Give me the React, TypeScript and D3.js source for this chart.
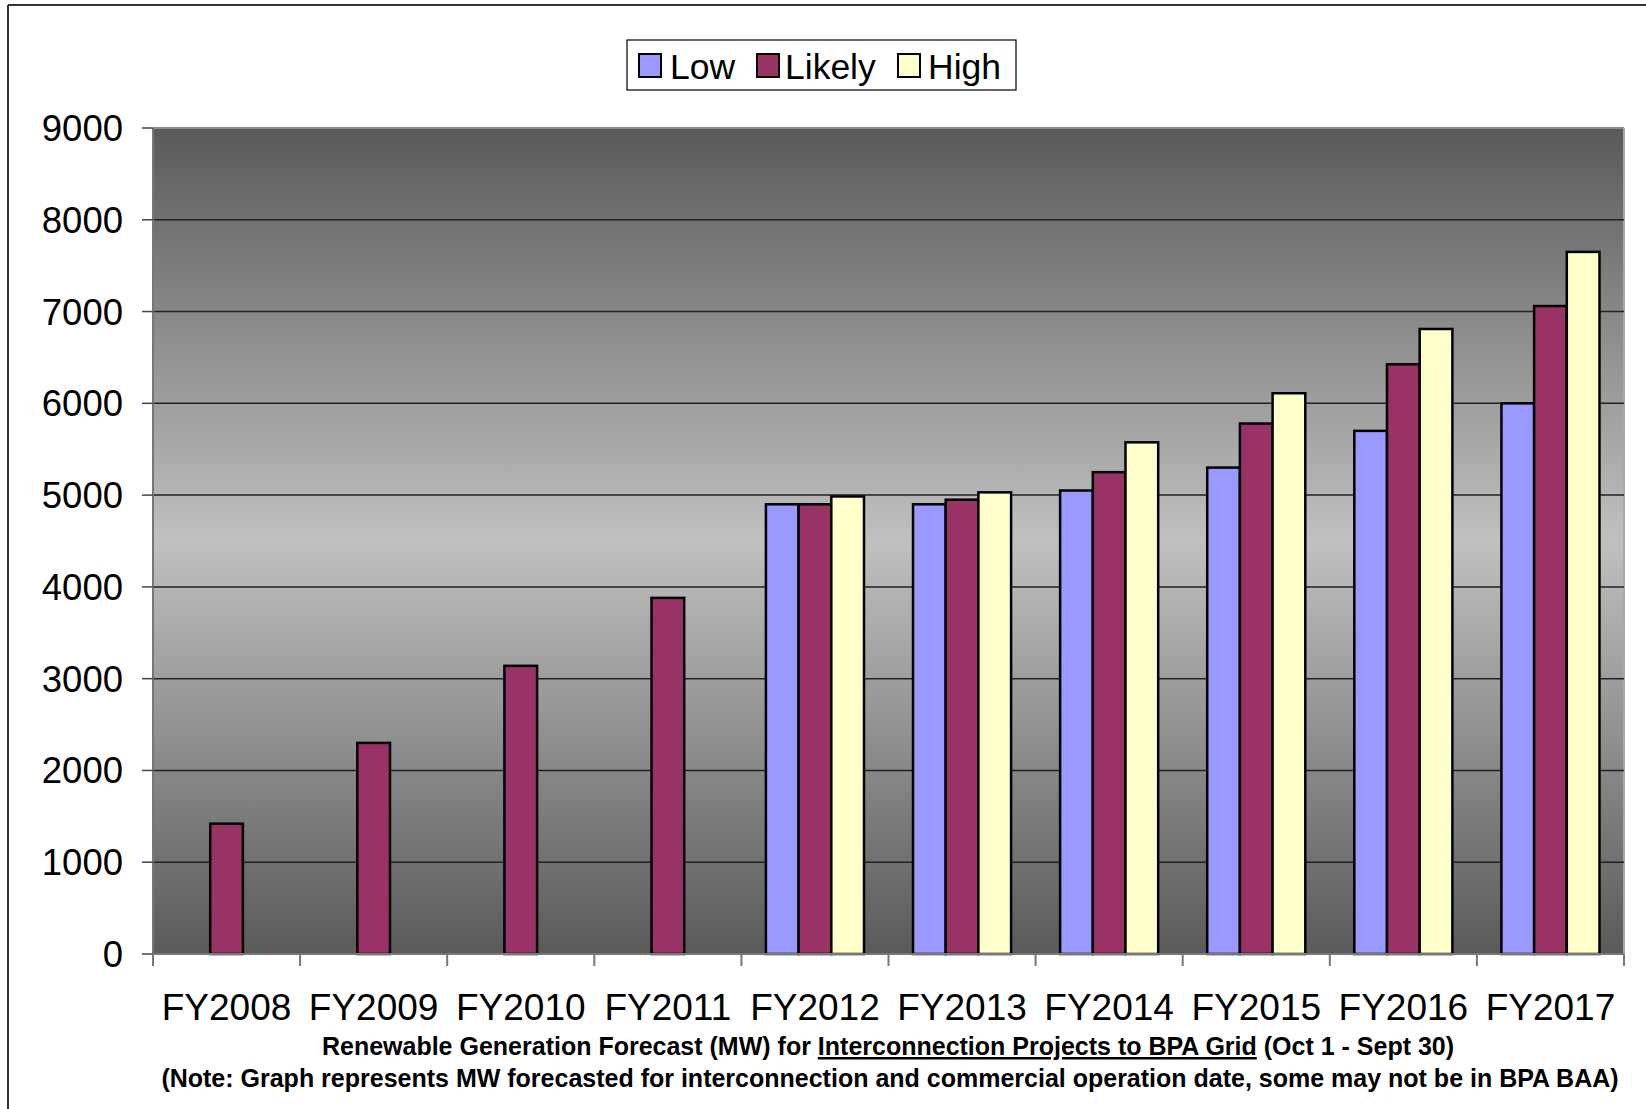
import React from 'react';
import * as d3 from 'd3';

// fiscal years on the x axis
const years = ['FY2008', 'FY2009', 'FY2010', 'FY2011', 'FY2012', 'FY2013', 'FY2014', 'FY2015', 'FY2016', 'FY2017'];
const seriesNames = ['Low', 'Likely', 'High'];
const seriesColors = ['#9999FF', '#993366', '#FFFFCC'];

// MW (null = no bar)
const lowValues = [null, null, null, null, 4900, 4900, 5050, 5300, 5700, 6000];
const likelyValues = [1420, 2300, 3140, 3880, 4900, 4950, 5250, 5780, 6425, 7060];
const highValues = [null, null, null, null, 4985, 5030, 5575, 6110, 6810, 7650];
const yTicks = [0, 1000, 2000, 3000, 4000, 5000, 6000, 7000, 8000, 9000];

const W = 1646, H = 1109;
const left = 153, right = 1624, top = 128, bottom = 954;

const App = () => {
    const x = d3.scaleBand().domain(years).range([left, right]);
    const bw = x.bandwidth();
    const xs = d3.scaleBand().domain(seriesNames).range([bw / 6, bw * 5 / 6]);
    const y = d3.scaleLinear().domain([0, 9000]).range([bottom, top]);
    const allSeries = [lowValues, likelyValues, highValues];

    const font = '"Liberation Sans", Arial, sans-serif';

    return (
        <div style={{ position: 'absolute', left: 0, top: 0 }}>
            <svg width={W} height={H} style={{ display: 'block', background: '#fff' }}>
                <defs>
                    <linearGradient id="bg" x1="0" y1="0" x2="0" y2="1">
                        <stop offset="0%" stopColor="#5a5a5a" />
                        <stop offset="50%" stopColor="#c0c0c0" />
                        <stop offset="100%" stopColor="#5a5a5a" />
                    </linearGradient>
                </defs>
                {/* outer frame */}
                <line x1={8} x2={W} y1={5} y2={5} stroke="#333" strokeWidth={2} />
                <line x1={8} x2={8} y1={5} y2={H} stroke="#333" strokeWidth={2} />

                {/* plot area */}
                <rect x={left} y={top} width={right - left} height={bottom - top} fill="url(#bg)" />
                <line x1={left} x2={right} y1={top} y2={top} stroke="#8a8a8a" strokeWidth={2} />
                <line x1={right} x2={right} y1={top} y2={bottom} stroke="#a8a8a8" strokeWidth={2} />
                {yTicks.filter(t => t > 0 && t < 9000).map(t => (
                    <line key={t} x1={left} x2={right} y1={y(t)} y2={y(t)} stroke="#222" strokeWidth={1.5} />
                ))}

                {/* bars */}
                {years.map((yr, i) => (
                    <g key={yr} transform={`translate(${x(yr)},0)`}>
                        {allSeries.map((s, j) => s[i] == null ? null : (
                            <rect key={j}
                                x={xs(seriesNames[j])}
                                y={y(s[i] as number)}
                                width={xs.bandwidth()}
                                height={y(0) - y(s[i] as number)}
                                fill={seriesColors[j]}
                                stroke="#000" strokeWidth={2.5} />
                        ))}
                    </g>
                ))}

                {/* axes */}
                <line x1={left} x2={left} y1={top} y2={bottom} stroke="#777" strokeWidth={2} />
                <line x1={left} x2={right} y1={bottom} y2={bottom} stroke="#777" strokeWidth={2} />
                {yTicks.map(t => (
                    <g key={t}>
                        <line x1={142} x2={left} y1={y(t)} y2={y(t)} stroke="#444" strokeWidth={1.5} />
                        <text x={123} y={y(t) + 13} textAnchor="end" fontFamily={font} fontSize={36.5} fill="#000">{t}</text>
                    </g>
                ))}
                {years.map((yr, i) => (
                    <line key={yr} x1={x(yr)} x2={x(yr)} y1={bottom} y2={966} stroke="#777" strokeWidth={2} />
                ))}
                <line x1={right} x2={right} y1={bottom} y2={966} stroke="#777" strokeWidth={2} />
                {years.map(yr => (
                    <text key={yr} x={(x(yr) as number) + bw / 2} y={1020} textAnchor="middle" fontFamily={font} fontSize={37} fill="#000">{yr}</text>
                ))}

                {/* legend */}
                <rect x={627} y={40} width={389} height={50} fill="#fff" stroke="#000" strokeWidth={1.2} />
                {[
                    { sx: 639, tx: 670 },
                    { sx: 757, tx: 785 },
                    { sx: 898, tx: 928 },
                ].map((p, j) => (
                    <g key={j}>
                        <rect x={p.sx} y={54} width={22} height={23} fill={seriesColors[j]} stroke="#000" strokeWidth={2} />
                        <text x={p.tx} y={79} fontFamily={font} fontSize={35.5} fill="#000">{seriesNames[j]}</text>
                    </g>
                ))}

                {/* notes */}
                <text x={888} y={1055} textAnchor="middle" fontFamily={font} fontSize={25} fontWeight="bold" fill="#000">
                    Renewable Generation Forecast (MW) for <tspan textDecoration="underline">Interconnection Projects to BPA Grid</tspan> (Oct 1 - Sept 30)
                </text>
                <text x={890} y={1087} textAnchor="middle" fontFamily={font} fontSize={25} fontWeight="bold" fill="#000">
                    (Note: Graph represents MW forecasted for interconnection and commercial operation date, some may not be in BPA BAA)
                </text>
            </svg>
        </div>
    );
};

export default App;
